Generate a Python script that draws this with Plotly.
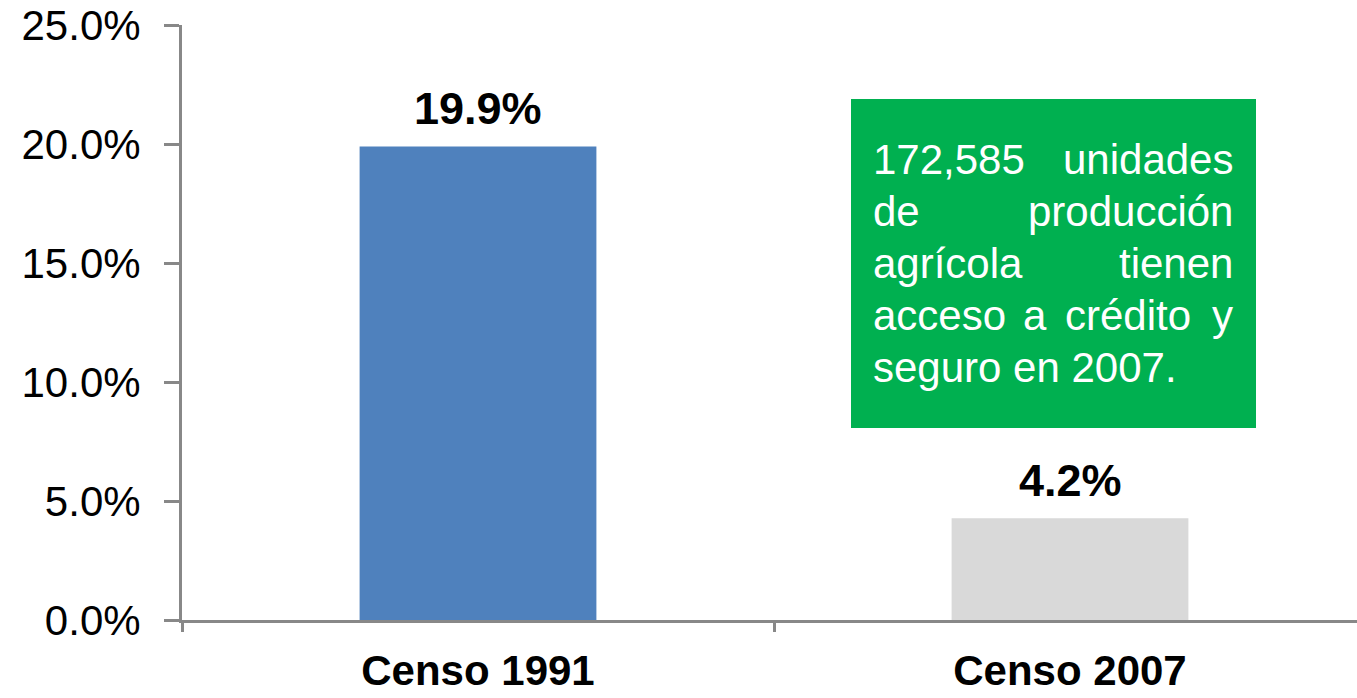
import plotly.graph_objects as go

# ---- data ----
categories = ["Censo 1991", "Censo 2007"]
values = [19.9, 4.28]
value_labels = ["19.9%", "4.2%"]
bar_colors = ["#4F81BD", "#D9D9D9"]
y_ticks = [0, 5, 10, 15, 20, 25]
y_tick_labels = ["0.0%", "5.0%", "10.0%", "15.0%", "20.0%", "25.0%"]
note_lines = [
    ["172,585", "unidades"],
    ["de", "producción"],
    ["agrícola", "tienen"],
    ["acceso", "a", "crédito", "y"],
    ["seguro en 2007."],
]

W, H = 1357, 698
L, R, T, B = 182, 0, 25, 78
PW, PH = W - L - R, H - T - B

def px(x):
    return (x - L) / PW

def py(y):
    return (H - B - y) / PH

FONT = "Liberation Sans, Arial, sans-serif"
AXIS_COLOR = "#888888"

fig = go.Figure()
fig.add_trace(go.Bar(
    x=categories, y=values, marker=dict(color=bar_colors, line=dict(width=0)),
    width=0.4, hoverinfo="skip", showlegend=False,
))

annotations = []
for c, v, t in zip(categories, values, value_labels):
    annotations.append(dict(
        x=c, y=v, xref="x", yref="y", text="<b>" + t + "</b>", showarrow=False,
        yanchor="bottom", xanchor="center", yshift=10,
        font=dict(family=FONT, size=45, color="#000000"),
    ))

# green note box
box = dict(x0=851, x1=1256, y0=99, y1=428)
shapes = [dict(type="rect", xref="paper", yref="paper",
               x0=px(box["x0"]), x1=px(box["x1"]), y0=py(box["y1"]), y1=py(box["y0"]),
               fillcolor="#00B050", line=dict(width=0), layer="above")]

baselines = [175, 227, 279, 331, 383]
left_x, right_x = 871, 1235
word_pos_line4 = [(871, "left"), (1035, "center"), (1128, "center"), (1235, "right")]
NOTE_SIZE = 42
for words, base in zip(note_lines, baselines):
    cy = base - 0.36 * NOTE_SIZE
    if len(words) == 1:
        places = [(left_x, "left")]
    elif len(words) == 2:
        places = [(left_x, "left"), (right_x, "right")]
    else:
        places = word_pos_line4
    for w, (xx, anc) in zip(words, places):
        annotations.append(dict(
            x=px(xx), y=py(cy), xref="paper", yref="paper", text=w, showarrow=False,
            xanchor=anc, yanchor="middle",
            font=dict(family=FONT, size=NOTE_SIZE, color="#FFFFFF"),
        ))

fig.update_layout(
    width=W, height=H,
    margin=dict(l=L, r=R, t=T, b=B, pad=0, autoexpand=False),
    paper_bgcolor="#FFFFFF", plot_bgcolor="#FFFFFF",
    bargap=0.6,
    annotations=annotations, shapes=shapes,
    xaxis=dict(
        type="category", range=[-0.5, -0.5 + PW / 592.0], automargin=False,
        showline=True, linecolor=AXIS_COLOR, linewidth=3,
        ticks="outside", tickson="boundaries", ticklen=9, tickwidth=2.5, tickcolor=AXIS_COLOR,
        showgrid=False, zeroline=False,
        tickfont=dict(family=FONT, size=42, color="#000000"),
        tickprefix="<b>", ticksuffix="</b>",
        ticklabelstandoff=12,
    ),
    yaxis=dict(
        range=[0, 25], tickmode="array", tickvals=y_ticks, ticktext=y_tick_labels,
        automargin=False,
        showline=True, linecolor=AXIS_COLOR, linewidth=3,
        ticks="outside", ticklen=15, tickwidth=2.5, tickcolor=AXIS_COLOR,
        showgrid=False, zeroline=False,
        tickfont=dict(family=FONT, size=42, color="#000000"),
        ticklabelstandoff=15,
    ),
)

fig.write_html(
    "out.html",
    config={"displayModeBar": False},
    post_script="document.body.style.margin='0';document.body.style.overflow='hidden';",
)
